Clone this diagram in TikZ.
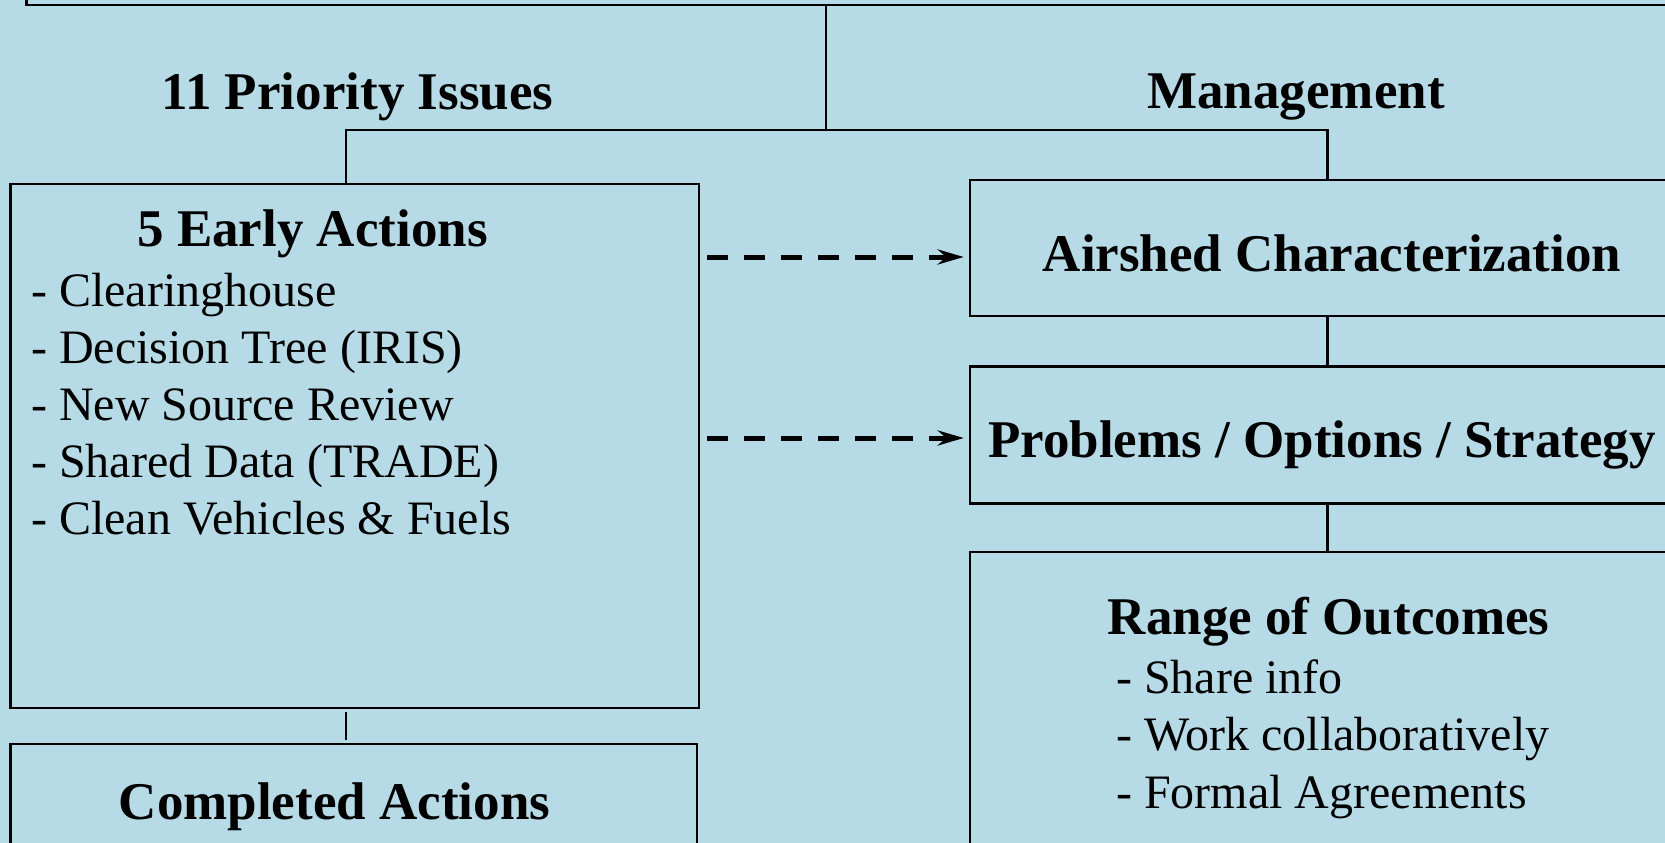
\documentclass[tikz,border=0pt]{standalone}
\usepackage{fontspec}
\setmainfont{Liberation Serif}
\usetikzlibrary{arrows.meta}
\definecolor{skyback}{RGB}{182,219,230}

\begin{document}
\begin{tikzpicture}[x=1pt, y=-1pt,
		box/.style = {draw, line width=2.5pt, rectangle, inner sep=0pt},
		heading/.style = {font=\fontsize{53}{60}\selectfont\bfseries, inner sep=0pt, anchor=base},
		entry/.style = {font=\fontsize{48}{57}\selectfont, inner sep=0pt, anchor=base west},
		link/.style = {line width=2.2pt},
		flow/.style = {line width=5pt, dash pattern=on 21pt off 16pt,
			-{Stealth[length=26pt, width=15pt]}, shorten <=7pt, shorten >=5pt}]
	\useasboundingbox (0,0) rectangle (1665,843);
	\fill[skyback] (0,0) rectangle (1665,843);
	\clip (0,0) rectangle (1665,843);

	% boxes
	\node (goal) [box, minimum width=1693.5pt, minimum height=105pt] at (873.25,-47.5) {};
	\node (early) [box, minimum width=688.4pt, minimum height=524pt] at (354.8,446) {};
	\node (completed) [box, minimum width=686.4pt, minimum height=156pt] at (353.8,822) {};
	\node (airshed) [box, minimum width=715pt, minimum height=136pt] at (1327.5,248) {};
	\node (problems) [box, minimum width=715pt, minimum height=136.6pt] at (1327.5,435) {};
	\node (range) [box, minimum width=715pt, minimum height=348pt] at (1327.5,726) {};

	% texts
	\node (issues) [heading] at (357.5,109) {11 Priority Issues};
	\node (mgmt) [heading] at (1296,108) {Management};
	\node (earlytitle) [heading] at (312.5,246.7) {5 Early Actions};
	\foreach \txt [count=\i] in {Clearinghouse, Decision Tree (IRIS), New Source Review,
			Shared Data (TRADE), Clean Vehicles \& Fuels}
		\node (early\i) [entry] at (31,{306+57.2*(\i-1)}) {- \txt};
	\node (airshedtitle) [heading] at (1332,271.7) {Airshed Characterization};
	\node (problemstitle) [heading] at (1322,457.3) {Problems / Options / Strategy};
	\node (rangetitle) [heading] at (1328.6,634) {Range of Outcomes};
	\foreach \txt [count=\i] in {Share info, Work collaboratively, Formal Agreements}
		\node (range\i) [entry] at (1116,{693.3+57.5*(\i-1)}) {- \txt};
	\node (completedtitle) [heading] at (334.5,819) {Completed Actions};

	% tree lines
	\coordinate (fork) at (826,130);
	\coordinate (lbranch) at (346,130);
	\coordinate (rbranch) at (1327.5,130);
	\draw[link] (goal.south -| fork) -- (fork);
	\draw[link] (early.north -| lbranch) |- (rbranch) -- (airshed.north);
	\draw[link] (airshed) -- (problems);
	\draw[link] (problems) -- (range);
	\draw[link, shorten <=3pt, shorten >=3pt] (early.south -| lbranch) -- (completed.north -| lbranch);

	% dashed arrows
	\coordinate (in1) at ([yshift=-9pt]airshed.west);
	\coordinate (in2) at ([yshift=-3pt]problems.west);
	\draw[flow] (early.east |- in1) -- (in1);
	\draw[flow] (early.east |- in2) -- (in2);
\end{tikzpicture}
\end{document}
